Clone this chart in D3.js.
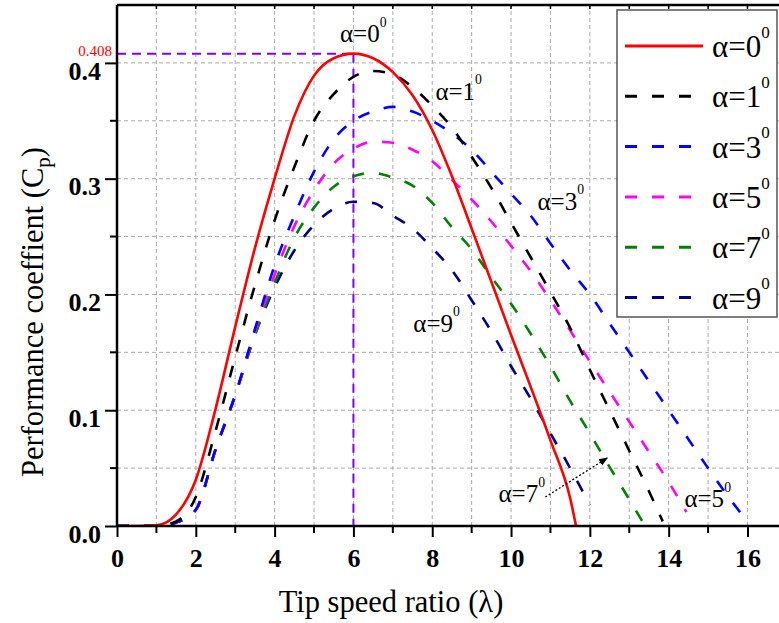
<!DOCTYPE html>
<html>
<head>
<meta charset="utf-8">
<script src="https://cdn.jsdelivr.net/npm/d3@7/dist/d3.min.js"></script>
<style>
  html, body { margin: 0; padding: 0; background: #fff; }
  svg { display: block; }
  text { font-family: "Liberation Serif", "Times New Roman", serif; }
</style>
</head>
<body>
<svg id="chart" width="779" height="623"></svg>
<script>
// Tip speed ratio (lambda) and power coefficient Cp for each pitch angle
const lambda0 = [0, 0.5, 1.0, 1.5, 2.0, 2.5, 3.0, 3.5, 4.0, 4.5, 5.0, 5.5, 6.0, 6.5, 7.0, 7.5, 8.0, 8.5, 9.0, 9.5, 10.0, 10.5, 11.0, 11.5, 11.65];
const cp0     = [0, 0, 0.0005, 0.010, 0.040, 0.101, 0.172, 0.240, 0.300, 0.354, 0.389, 0.404, 0.408, 0.404, 0.392, 0.372, 0.342, 0.302, 0.257, 0.211, 0.165, 0.120, 0.074, 0.024, 0];

const lambda1 = [0, 0.5, 1.0, 1.5, 2.0, 2.5, 3.0, 3.5, 4.0, 4.5, 5.0, 5.5, 6.0, 6.5, 7.0, 7.5, 8.0, 8.5, 9.0, 9.5, 10.0, 10.5, 11.0, 11.5, 12.0, 12.5, 13.0, 13.5, 13.85];
const cp1     = [0, 0, 0, 0.004, 0.025, 0.082, 0.146, 0.208, 0.264, 0.310, 0.350, 0.373, 0.388, 0.393, 0.390, 0.379, 0.363, 0.344, 0.319, 0.292, 0.262, 0.232, 0.202, 0.171, 0.135, 0.100, 0.065, 0.030, 0.004];

const lambda3 = [0, 0.5, 1.0, 1.5, 2.0, 2.5, 3.0, 3.5, 4.0, 4.5, 5.0, 5.5, 6.0, 6.5, 7.0, 7.5, 8.0, 8.5, 9.0, 9.5, 10.0, 10.5, 11.0, 11.5, 12.0, 12.5, 13.0, 13.5, 14.0, 14.5, 15.0, 15.5, 15.9];
const cp3     = [0, 0, 0, 0.003, 0.014, 0.066, 0.113, 0.170, 0.225, 0.268, 0.306, 0.334, 0.350, 0.358, 0.362, 0.358, 0.350, 0.339, 0.325, 0.306, 0.287, 0.268, 0.244, 0.221, 0.200, 0.175, 0.150, 0.125, 0.100, 0.075, 0.050, 0.026, 0.008];

const lambda5 = [0, 0.5, 1.0, 1.5, 2.0, 2.5, 3.0, 3.5, 4.0, 4.5, 5.0, 5.5, 6.0, 6.5, 7.0, 7.5, 8.0, 8.5, 9.0, 9.5, 10.0, 10.5, 11.0, 11.5, 12.0, 12.5, 13.0, 13.5, 14.0, 14.45];
const cp5     = [0, 0, 0, 0.003, 0.014, 0.066, 0.113, 0.168, 0.217, 0.259, 0.290, 0.313, 0.326, 0.332, 0.331, 0.325, 0.315, 0.299, 0.282, 0.263, 0.242, 0.220, 0.195, 0.169, 0.142, 0.116, 0.090, 0.064, 0.038, 0.012];

const lambda7 = [0, 0.5, 1.0, 1.5, 2.0, 2.5, 3.0, 3.5, 4.0, 4.5, 5.0, 5.5, 6.0, 6.5, 7.0, 7.5, 8.0, 8.5, 9.0, 9.5, 10.0, 10.5, 11.0, 11.5, 12.0, 12.5, 13.0, 13.35];
const cp7     = [0, 0, 0, 0.003, 0.014, 0.066, 0.113, 0.165, 0.210, 0.249, 0.275, 0.293, 0.302, 0.305, 0.301, 0.294, 0.279, 0.258, 0.239, 0.215, 0.192, 0.166, 0.138, 0.108, 0.080, 0.051, 0.023, 0.003];

const lambda9 = [0, 0.5, 1.0, 1.5, 2.0, 2.5, 3.0, 3.5, 4.0, 4.5, 5.0, 5.5, 6.0, 6.5, 7.0, 7.5, 8.0, 8.5, 9.0, 9.5, 10.0, 10.5, 11.0, 11.5, 12.0];
const cp9     = [0, 0, 0, 0.003, 0.014, 0.066, 0.113, 0.165, 0.206, 0.238, 0.260, 0.274, 0.280, 0.279, 0.268, 0.257, 0.240, 0.221, 0.195, 0.168, 0.138, 0.110, 0.080, 0.050, 0.018];

const pitchAngles = ["0", "1", "3", "5", "7", "9"];
const seriesColors = ["#ff0000", "#000000", "#0000ff", "#ff00ff", "#008000", "#000080"];

const xTickValues = [0, 2, 4, 6, 8, 10, 12, 14, 16];
const yTickValues = [0.0, 0.1, 0.2, 0.3, 0.4];

const peakLambda = 6;
const peakCp = 0.408;

const series = [
  { angle: pitchAngles[0], x: lambda0, y: cp0, color: seriesColors[0], dashed: false },
  { angle: pitchAngles[1], x: lambda1, y: cp1, color: seriesColors[1], dashed: true },
  { angle: pitchAngles[2], x: lambda3, y: cp3, color: seriesColors[2], dashed: true },
  { angle: pitchAngles[3], x: lambda5, y: cp5, color: seriesColors[3], dashed: true },
  { angle: pitchAngles[4], x: lambda7, y: cp7, color: seriesColors[4], dashed: true },
  { angle: pitchAngles[5], x: lambda9, y: cp9, color: seriesColors[5], dashed: true }
];

const svg = d3.select("#chart");
const plotLeft = 117, plotRight = 779, plotTop = 5, plotBottom = 526;

const x = d3.scaleLinear().domain([0, 16.8]).range([plotLeft, plotRight]);
const y = d3.scaleLinear().domain([0, 0.45]).range([plotBottom, plotTop]);

const defs = svg.append("defs");
defs.append("clipPath").attr("id", "plotClip")
  .append("rect").attr("x", plotLeft).attr("y", plotTop)
  .attr("width", plotRight - plotLeft).attr("height", plotBottom - plotTop);

// Dashed grid
const grid = svg.append("g").attr("stroke", "#aaaaaa").attr("stroke-width", 1).attr("stroke-dasharray", "4,3");
d3.range(1, 17).forEach(v => {
  grid.append("line").attr("x1", x(v)).attr("x2", x(v)).attr("y1", plotBottom).attr("y2", plotTop);
});
d3.range(1, 9).map(i => i * 0.05).forEach(v => {
  grid.append("line").attr("x1", plotLeft).attr("x2", plotRight).attr("y1", y(v)).attr("y2", y(v));
});

// Guide lines to the maximum of the 0 degree curve
const guide = svg.append("g").attr("stroke", "#8000ff").attr("stroke-width", 2).attr("stroke-dasharray", "9,6").attr("fill", "none");
guide.append("line").attr("x1", x(0)).attr("x2", x(peakLambda)).attr("y1", y(peakCp)).attr("y2", y(peakCp));
guide.append("line").attr("x1", x(peakLambda)).attr("x2", x(peakLambda)).attr("y1", y(peakCp)).attr("y2", y(0));

svg.append("text").attr("x", x(0) - 5).attr("y", y(peakCp) + 2)
  .attr("text-anchor", "end").attr("fill", "#ff0000").attr("font-size", 15).text(peakCp.toFixed(3));

// Curves
const line = d3.line().x(d => x(d[0])).y(d => y(d[1])).curve(d3.curveMonotoneX);
const curves = svg.append("g").attr("clip-path", "url(#plotClip)");
series.slice().reverse().forEach(s => {
  curves.append("path")
    .attr("d", line(s.x.map((v, i) => [v, s.y[i]])))
    .attr("fill", "none")
    .attr("stroke", s.color)
    .attr("stroke-width", 2.6)
    .attr("stroke-dasharray", s.dashed ? "12,15" : null);
});

// Axes
const axisColor = "#000";
svg.append("line").attr("x1", plotLeft).attr("x2", plotRight).attr("y1", plotBottom).attr("y2", plotBottom).attr("stroke", axisColor).attr("stroke-width", 2.5);
svg.append("line").attr("x1", plotLeft).attr("x2", plotRight).attr("y1", plotTop).attr("y2", plotTop).attr("stroke", axisColor).attr("stroke-width", 2.5);
svg.append("line").attr("x1", plotLeft).attr("x2", plotLeft).attr("y1", plotTop).attr("y2", plotBottom + 1).attr("stroke", axisColor).attr("stroke-width", 2.5);

const xAxis = d3.axisBottom(x).tickValues(xTickValues).tickSize(11).tickFormat(d3.format("d"));
const gx = svg.append("g").attr("transform", `translate(0,${plotBottom})`).call(xAxis);
gx.select(".domain").remove();
gx.selectAll(".tick line").attr("stroke", axisColor).attr("stroke-width", 2);
gx.selectAll(".tick text")
  .attr("font-size", 26).attr("font-weight", "bold").attr("fill", "#000").attr("dy", "1.05em");

// minor ticks on the bottom and top edges
svg.append("g").selectAll("line").data(d3.range(1, 17, 2)).join("line")
  .attr("x1", d => x(d)).attr("x2", d => x(d)).attr("y1", plotBottom).attr("y2", plotBottom + 7)
  .attr("stroke", axisColor).attr("stroke-width", 2);
svg.append("g").selectAll("line").data(d3.range(1, 17)).join("line")
  .attr("x1", d => x(d)).attr("x2", d => x(d)).attr("y1", plotTop).attr("y2", plotTop + 4)
  .attr("stroke", axisColor).attr("stroke-width", 1.5);

const yAxis = d3.axisLeft(y).tickValues(yTickValues).tickSize(12).tickFormat(d3.format(".1f"));
const gy = svg.append("g").attr("transform", `translate(${plotLeft},0)`).call(yAxis);
gy.select(".domain").remove();
gy.selectAll(".tick line").attr("stroke", axisColor).attr("stroke-width", 2);
gy.selectAll(".tick text")
  .attr("font-size", 26).attr("font-weight", "bold").attr("fill", "#000")
  .attr("x", -16).attr("dy", "0.62em");
svg.append("g").selectAll("line").data([0.05, 0.15, 0.25, 0.35]).join("line")
  .attr("x1", plotLeft - 7).attr("x2", plotLeft).attr("y1", d => y(d)).attr("y2", d => y(d))
  .attr("stroke", axisColor).attr("stroke-width", 2);

// Axis titles
svg.append("text").attr("x", 391).attr("y", 612).attr("text-anchor", "middle")
  .attr("font-size", 30.5).attr("fill", "#000").text("Tip speed ratio (λ)");
const yTitle = svg.append("text").attr("transform", "translate(43,312) rotate(-90)")
  .attr("text-anchor", "middle").attr("font-size", 30.5).attr("fill", "#000");
yTitle.append("tspan").text("Performance coeffient (C");
yTitle.append("tspan").attr("font-size", 21).attr("dy", 7).text("p");
yTitle.append("tspan").attr("dy", -7).text(")");

// Curve annotations
function alphaLabel(g, angle, px, py, size) {
  const t = g.append("text").attr("x", px).attr("y", py).attr("font-size", size).attr("fill", "#000");
  t.append("tspan").text("α=" + angle);
  t.append("tspan").attr("font-size", size * 0.55).attr("dy", -size * 0.62).text("0");
  return t;
}
const notes = svg.append("g");
alphaLabel(notes, pitchAngles[0], x(5.66), y(0.418), 25);
alphaLabel(notes, pitchAngles[1], x(8.08), y(0.368), 25);
alphaLabel(notes, pitchAngles[2], x(10.67), y(0.273), 25);
alphaLabel(notes, pitchAngles[5], x(7.52), y(0.1676), 25);
alphaLabel(notes, pitchAngles[4], x(9.68), y(0.0207), 25);
alphaLabel(notes, pitchAngles[3], x(14.4), y(0.0164), 25);

// Arrow pointing to the 7 degree curve
defs.append("marker").attr("id", "arrowHead")
  .attr("viewBox", "0 0 10 10").attr("refX", 9).attr("refY", 5)
  .attr("markerWidth", 9).attr("markerHeight", 9).attr("orient", "auto").attr("markerUnits", "userSpaceOnUse")
  .append("path").attr("d", "M0,1 L10,5 L0,9 Z").attr("fill", "#000");
svg.append("line").attr("x1", x(10.87)).attr("y1", y(0.025)).attr("x2", x(12.44)).attr("y2", y(0.0587))
  .attr("stroke", "#000").attr("stroke-width", 1.3).attr("stroke-dasharray", "2,2")
  .attr("marker-end", "url(#arrowHead)");

// Legend
const lg = svg.append("g");
lg.append("rect").attr("x", 617).attr("y", 10).attr("width", 160).attr("height", 307)
  .attr("fill", "#fff").attr("stroke", "#555").attr("stroke-width", 1.5);
series.forEach((s, i) => {
  const ly = 46 + i * 50.3;
  lg.append("line").attr("x1", 625).attr("x2", 703).attr("y1", ly).attr("y2", ly)
    .attr("stroke", s.color).attr("stroke-width", 3)
    .attr("stroke-dasharray", s.dashed ? "12,15" : null);
  alphaLabel(lg, s.angle, 712, ly + 11, 31);
});
</script>
</body>
</html>
